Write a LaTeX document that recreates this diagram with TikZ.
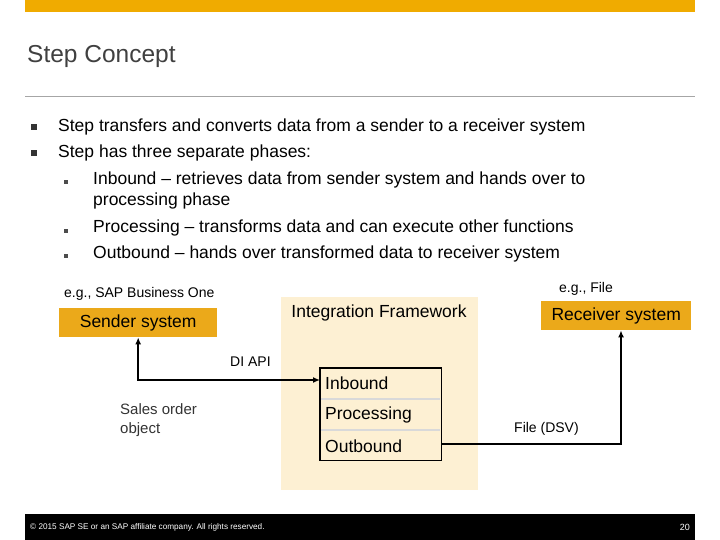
\documentclass[tikz,border=0pt]{standalone}
\usepackage{fontspec}
\setmainfont{Liberation Sans}
\begin{document}
\begin{tikzpicture}[x=1pt,y=-1pt,
  sapbox/.style={fill=sapgold,inner sep=0pt,anchor=north west},
  txt/.style={anchor=west,inner sep=0pt,font=\fontsize{17.5}{20}\selectfont},
  small/.style={anchor=west,inner sep=0pt,font=\fontsize{14}{17}\selectfont},
  conn/.style={line width=1.6pt,-{Latex[length=7pt,width=6pt]}}]
\usetikzlibrary{arrows.meta}
\definecolor{sapgold}{HTML}{F0AB00}
\definecolor{sapbg}{HTML}{FDF0D3}
\definecolor{boxgold}{HTML}{EBA91A}
\useasboundingbox (0,0) rectangle (720,540);
\fill[sapgold] (25,0) rectangle (695,12);
\node[anchor=west,inner sep=0pt,font=\fontsize{24.5}{28}\selectfont,text=black!75] (title) at (27,56) {Step Concept};
\draw[gray!70] (25,96) -- (695,96);
\foreach \y in {127,153} \fill[black!80] (31,\y-3) rectangle (37,\y+3);
\foreach \y in {182,231,256} \fill[black!70] (64,\y-2) rectangle (68,\y+2);
\node[txt] (b1) at (58,127) {Step transfers and converts data from a sender to a receiver system};
\node[txt] (b2) at (58,153) {Step has three separate phases:};
\node[txt] (s1) at (93,180) {Inbound – retrieves data from sender system and hands over to};
\node[txt] (s1b) at (93,201) {processing phase};
\node[txt] (s2) at (93,228) {Processing – transforms data and can execute other functions};
\node[txt] (s3) at (93,254) {Outbound – hands over transformed data to receiver system};
% framework
\fill[sapbg] (281,297) rectangle (478,490);
\node[txt,anchor=center,font=\fontsize{17.5}{20}\selectfont] (fw) at (379,313) {Integration Framework};
\node[sapbox,fill=boxgold,minimum width=158pt,minimum height=29pt] (snd) at (59,308) {};
\node[txt,anchor=center,font=\fontsize{17.5}{20}\selectfont] at (snd.center) {Sender system};
\node[sapbox,fill=boxgold,minimum width=150pt,minimum height=29pt] (rcv) at (541,301) {};
\node[txt,anchor=center,font=\fontsize{17.5}{20}\selectfont] at (rcv.center) {Receiver system};
\node[small] (eg1) at (64,294) {e.g., SAP Business One};
\node[small] (eg2) at (559,289) {e.g., File};
% phases
\node[anchor=north west,minimum width=121pt,minimum height=92pt,inner sep=0pt,fill=sapbg] (ph) at (320,368) {};
\coordinate (inw) at (320,380);
\coordinate (oute) at (441,444);
\draw[gray!30,line width=1.4pt] (321,399) -- (440,399) (321,430) -- (440,430);
\draw[line width=1.6pt] (ph.north west) rectangle (ph.south east);
\node[txt] at (325,383) {Inbound};
\node[txt] at (325,415) {Processing};
\node[txt] at (325,446) {Outbound};
\node[small] (di) at (230,362) {DI API};
\node[small,align=left,text=black!80,font=\fontsize{15}{19}\selectfont] (so) at (120,420) {Sales order\\object};
\node[small] (dsv) at (514,429) {File (DSV)};
\coordinate (c1) at (snd.south |- inw);
\draw[conn,{Latex[length=7pt,width=6pt]}-{Latex[length=7pt,width=6pt]}] (snd.south) -- (c1) -- (inw);
\draw[conn] (oute) -- (621,444) -- (rcv.south -| 621,0);
% footer
\fill[black] (25,514) rectangle (695,540);
\node[anchor=west,inner sep=0pt,text=white,font=\fontsize{8.2}{9}\selectfont] (ft) at (30,527) {© 2015 SAP SE or an SAP affiliate company. All rights reserved.};
\node[anchor=east,inner sep=0pt,text=white,font=\fontsize{9}{10}\selectfont] (pg) at (690,527) {20};
\end{tikzpicture}
\end{document}
